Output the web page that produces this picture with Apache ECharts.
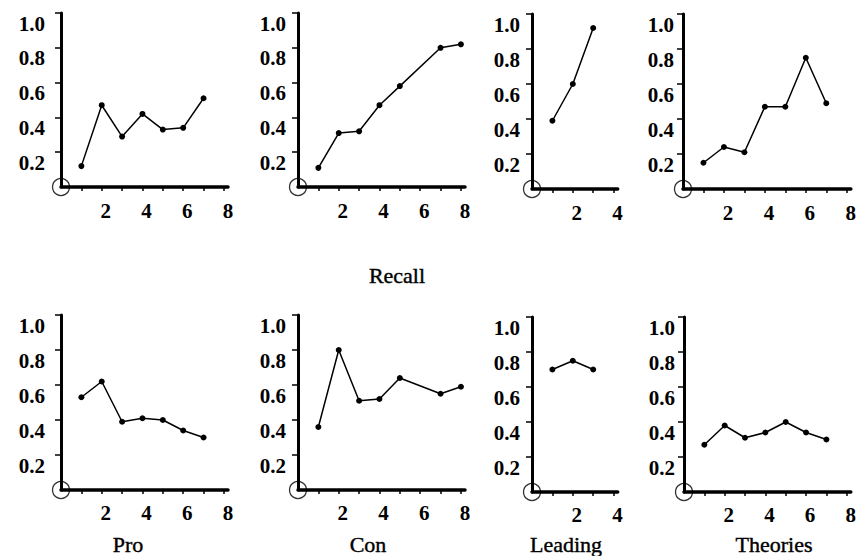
<!DOCTYPE html>
<html>
<head>
<meta charset="utf-8">
<script src="https://cdn.jsdelivr.net/npm/echarts@6/dist/echarts.min.js"></script>
<style>
  html, body { margin: 0; padding: 0; background: #fff; }
  #chart { width: 859px; height: 556px; }
</style>
</head>
<body>
<div id="chart"></div>
<script>
// Proportion by serial position for four kinds of item, two rows of panels.
const positionsLong = [1, 2, 3, 4, 5, 6, 7, 8];
const positionsShort = [1, 2, 3];

// Upper row (captioned "Recall"); null = no point at that position
const recallPro = [0.12, 0.47, 0.29, 0.42, 0.33, 0.34, 0.51];
const recallCon = [0.11, 0.31, 0.32, 0.47, 0.58, null, 0.80, 0.82];
const recallLeading = [0.39, 0.60, 0.92];
const recallTheories = [0.15, 0.24, 0.21, 0.47, 0.47, 0.75, 0.49];

// Lower row
const lowerPro = [0.53, 0.62, 0.39, 0.41, 0.40, 0.34, 0.30];
const lowerCon = [0.36, 0.80, 0.51, 0.52, 0.64, null, 0.55, 0.59];
const lowerLeading = [0.70, 0.75, 0.70];
const lowerTheories = [0.27, 0.38, 0.31, 0.34, 0.40, 0.34, 0.30];

// Axis ticks and labels
const yTickValues = [0.2, 0.4, 0.6, 0.8, 1.0];
const xTicksLong = [1, 2, 3, 4, 5, 6, 7, 8];
const xLabelsLong = [2, 4, 6, 8];
const xTicksShort = [1, 2, 3, 4];
const xLabelsShort = [2, 4];

const columnNames = ['Pro', 'Con', 'Leading', 'Theories'];
const rowCaption = 'Recall';

const FONT = '"Liberation Serif", "DejaVu Serif", serif';

// panel frames (pixels)
const layout = [
  // upper row
  { left: 61,  top: 13,  bottom: 187, width: 167,  xMax: 8.2, ticks: xTicksLong,  labels: xLabelsLong,  yMargin: 16, xMargin: 13 },
  { left: 298, top: 13,  bottom: 187, width: 167,  xMax: 8.2, ticks: xTicksLong,  labels: xLabelsLong,  yMargin: 12, xMargin: 13 },
  { left: 532, top: 14,  bottom: 189, width: 85.7, xMax: 4.2, ticks: xTicksShort, labels: xLabelsShort, yMargin: 12, xMargin: 13 },
  { left: 683, top: 14,  bottom: 189, width: 170,  xMax: 8.2, ticks: xTicksLong,  labels: xLabelsLong,  yMargin: 9,  xMargin: 13 },
  // lower row
  { left: 61,  top: 315, bottom: 490, width: 167,  xMax: 8.2, ticks: xTicksLong,  labels: xLabelsLong,  yMargin: 16, xMargin: 12 },
  { left: 298, top: 315, bottom: 490, width: 167,  xMax: 8.2, ticks: xTicksLong,  labels: xLabelsLong,  yMargin: 12, xMargin: 12 },
  { left: 532, top: 317, bottom: 492, width: 85.7, xMax: 4.2, ticks: xTicksShort, labels: xLabelsShort, yMargin: 12, xMargin: 12 },
  { left: 684, top: 317, bottom: 492, width: 170,  xMax: 8.2, ticks: xTicksLong,  labels: xLabelsLong,  yMargin: 9,  xMargin: 12 }
];

const panelData = [
  { positions: positionsLong,  values: recallPro },
  { positions: positionsLong,  values: recallCon },
  { positions: positionsShort, values: recallLeading },
  { positions: positionsLong,  values: recallTheories },
  { positions: positionsLong,  values: lowerPro },
  { positions: positionsLong,  values: lowerCon },
  { positions: positionsShort, values: lowerLeading },
  { positions: positionsLong,  values: lowerTheories }
];

function pairs(positions, values) {
  const out = [];
  positions.forEach((x, i) => {
    if (values[i] !== null && values[i] !== undefined) out.push([x, values[i]]);
  });
  return out;
}

const grid = [], xAxis = [], yAxis = [], series = [];
layout.forEach((p, i) => {
  grid.push({ left: p.left, top: p.top, width: p.width, height: p.bottom - p.top, containLabel: false });
  xAxis.push({
    type: 'value', gridIndex: i, min: 0, max: p.xMax,
    splitLine: { show: false },
    axisLine: { show: true, lineStyle: { color: '#000', width: 3.5 } },
    axisTick: { show: true, customValues: p.ticks, length: 4, inside: false, lineStyle: { color: '#000', width: 1.5 } },
    axisLabel: {
      show: true, customValues: p.labels, margin: p.xMargin,
      color: '#000', fontFamily: FONT, fontSize: 21, fontWeight: 'bold',
      padding: [0, 0, 0, 8],
      formatter: v => String(Math.round(v))
    }
  });
  yAxis.push({
    type: 'value', gridIndex: i, min: 0, max: 1, interval: 0.2,
    splitLine: { show: false },
    axisLine: { show: true, lineStyle: { color: '#000', width: 3 } },
    axisTick: { show: true, customValues: yTickValues, length: 6, inside: false, lineStyle: { color: '#000', width: 1.5 } },
    axisLabel: {
      show: true, customValues: yTickValues, margin: p.yMargin,
      verticalAlign: 'top',
      color: '#000', fontFamily: FONT, fontSize: 21, fontWeight: 'bold',
      formatter: v => v.toFixed(1)
    }
  });
  series.push({
    type: 'line', xAxisIndex: i, yAxisIndex: i,
    data: pairs(panelData[i].positions, panelData[i].values),
    symbol: 'circle', symbolSize: 6,
    itemStyle: { color: '#000' },
    lineStyle: { color: '#000', width: 1.5 },
    silent: true, animation: false
  });
  // open circle marking the origin
  series.push({
    type: 'scatter', xAxisIndex: i, yAxisIndex: i,
    data: [[0, 0]], symbol: 'circle', symbolSize: 17, clip: false,
    itemStyle: { color: 'rgba(0,0,0,0)', borderColor: '#000', borderWidth: 1.3 },
    silent: true, animation: false, z: 5
  });
});

// captions
const captionCenters = [128, 368, 566, 774];
const captionStyle = { fill: '#000', stroke: '#000', lineWidth: 0.4, font: '22px ' + FONT, textAlign: 'center', textVerticalAlign: 'middle' };
const graphic = [{
  type: 'text', x: 397, y: 275, silent: true,
  style: Object.assign({ text: rowCaption }, captionStyle)
}];
columnNames.forEach((name, i) => {
  graphic.push({
    type: 'text', x: captionCenters[i], y: 544, silent: true,
    style: Object.assign({ text: name }, captionStyle)
  });
});

const chart = echarts.init(document.getElementById('chart'), null, { renderer: 'svg' });
chart.setOption({
  backgroundColor: '#fff',
  animation: false,
  grid, xAxis, yAxis, series, graphic
});
</script>
</body>
</html>
